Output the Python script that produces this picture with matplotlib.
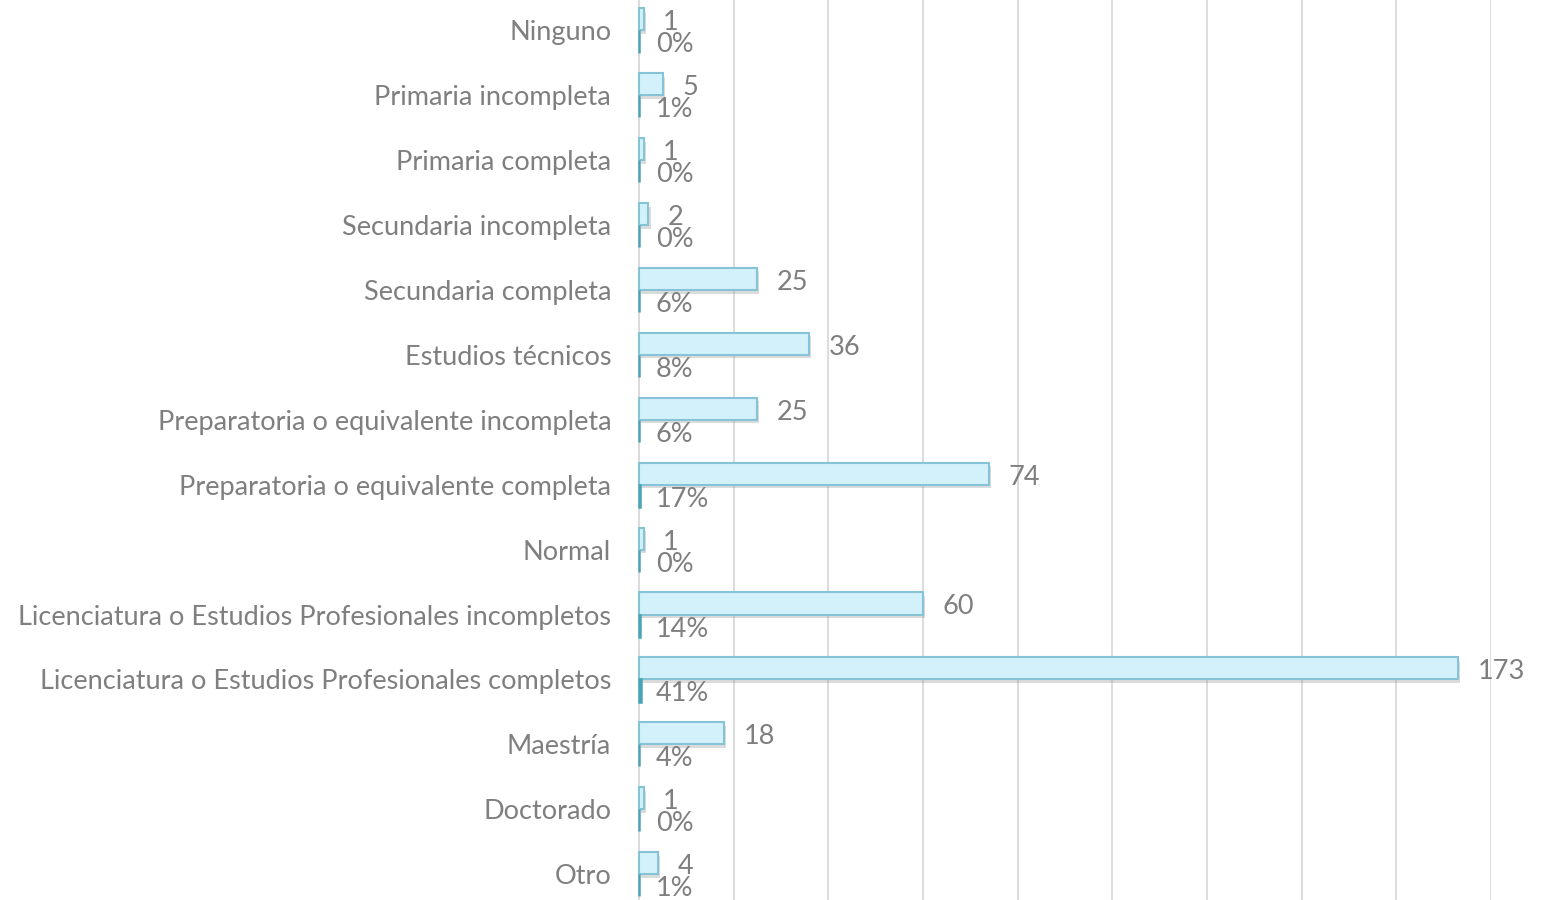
import matplotlib
matplotlib.use("Agg")
import matplotlib.pyplot as plt
import matplotlib.patheffects as pe
import numpy as np

categories = ["Ninguno", "Primaria incompleta", "Primaria completa", "Secundaria incompleta",
              "Secundaria completa", "Estudios técnicos", "Preparatoria o equivalente incompleta",
              "Preparatoria o equivalente completa", "Normal",
              "Licenciatura o Estudios Profesionales incompletos",
              "Licenciatura o Estudios Profesionales completos", "Maestría", "Doctorado", "Otro"]
counts = [1, 5, 1, 2, 25, 36, 25, 74, 1, 60, 173, 18, 1, 4]
percents = [0, 1, 0, 0, 6, 8, 6, 17, 0, 14, 41, 4, 0, 1]
xticks = [0, 20, 40, 60, 80, 100, 120, 140, 160, 180]

plt.rcParams['font.family'] = ['Lato', 'DejaVu Sans']
W, H = 1542, 900
fig = plt.figure(figsize=(W / 100, H / 100), dpi=100)
left = 639 / W
right = 1491 / W
top_px = -2.0
bot_px = 906.6
ax = fig.add_axes([left, 1 - bot_px / H, right - left, (bot_px - top_px) / H])

y = np.arange(len(categories))
bh = 0.34
txt = '#7f7f7f'

bars = ax.barh(y - bh / 2, counts, height=bh, color='#d3f1fb', edgecolor='#86c3d6',
               linewidth=1.5, zorder=3)
for b in bars:
    b.set_clip_on(False)
    b.set_path_effects([pe.SimplePatchShadow(offset=(1.5, -2.5), shadow_rgbFace='#999999', alpha=0.35),
                        pe.Normal()])
pbars = ax.barh(y + bh / 2, [p / 100 for p in percents], height=bh, color='#4aa3b8',
                edgecolor='#4aa3b8', linewidth=1.8, zorder=3)
for b in pbars:
    b.set_clip_on(False)

for i, (c, p) in enumerate(zip(counts, percents)):
    ax.annotate(str(c), (c, i - bh / 2), xytext=(14, -2.5), textcoords='offset points',
                ha='left', va='center', fontsize=19.5, color=txt, annotation_clip=False)
    ax.annotate(f"{p}%", (0, i + bh / 2), xytext=(12, -2.5), textcoords='offset points',
                ha='left', va='center', fontsize=19.5, color=txt, annotation_clip=False)

ax.set_xlim(0, 180)
ax.set_ylim(len(categories) - 0.5, -0.5)
ax.set_xticks(xticks)
ax.set_xticklabels([])
ax.tick_params(axis='x', length=0)
ax.set_yticks(y)
ax.set_yticklabels(categories, fontsize=19.5, color=txt)
ax.tick_params(axis='y', length=0, pad=20)
ax.grid(axis='x', color='#d9d9d9', linewidth=1.3, zorder=0)
ax.set_axisbelow(True)
for s in ['top', 'right', 'bottom']:
    ax.spines[s].set_visible(False)
ax.spines['left'].set_color('#d9d9d9')
ax.spines['left'].set_linewidth(1.3)

fig.savefig("out.png", dpi=100)
